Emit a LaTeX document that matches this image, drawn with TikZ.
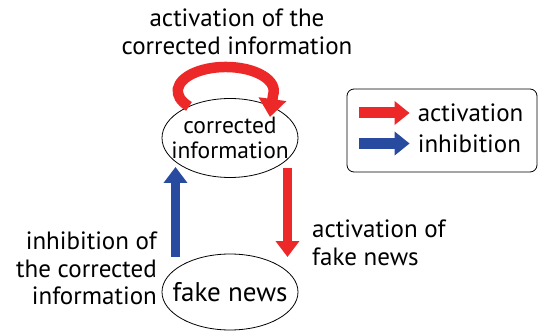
\documentclass[tikz,border=0pt]{standalone}
\usepackage{fontspec}
\setmainfont{PT Sans}
\usetikzlibrary{arrows.meta,shapes.geometric,calc}
\definecolor{actred}{RGB}{237,40,40}
\definecolor{inhblue}{RGB}{40,75,160}
\begin{document}
\begin{tikzpicture}[x=1pt,y=1pt,
  every node/.style={font=\fontsize{25}{27.5}\selectfont, inner sep=0pt},
  state/.style={ellipse, draw, line width=0.8pt, minimum width=136pt, minimum height=79pt, align=center,
    inner xsep=-15pt, font=\fontsize{23.5}{25}\selectfont},
  fatarrow/.style={line width=9pt, -{Triangle[length=16pt,width=23pt]}},
  act/.style={fatarrow, draw=actred},
  inh/.style={fatarrow, draw=inhblue},
  looparrow/.style={draw=actred, line width=10.5pt, -{Triangle[length=18pt,width=27pt]}},
  keyarrow/.style={line width=11pt, -{Triangle[length=15pt,width=23pt]}}]
\useasboundingbox (0,0) rectangle (538,-331);

% the two states
\node[state] (corr) at (230,-138) {corrected\\information};
\node[state, minimum height=76pt, font=\fontsize{27}{29}\selectfont] (fake) at (230,-292) {fake news};

% self-activation loop
\draw[looparrow] ($(corr.center)+(-41,31.6)$)
  arc[start angle=220, end angle=-10, x radius=48, y radius=24]
  -- ($(corr.center)+(40,21)$);

% activation of fake news and inhibition of the corrected information
\draw[act] ($(corr.center)+(57.5,-30)$) -- ($(fake.center)+(57.5,35)$);
\draw[inh] ($(fake.center)+(-54.5,35)$) -- ($(corr.center)+(-54.5,-29)$);

% labels
\node[align=center, anchor=north] (tlab) at (237,-9) {activation of the\\corrected information};
\node[align=left, anchor=north west] (rlab) at (312,-220) {activation of\\fake news};
\node[align=right, anchor=north east] (llab) at (157,-232) {inhibition of\\the corrected\\information};

% legend
\node[draw, rounded corners=7pt, line width=0.8pt, minimum width=190pt, minimum height=83pt] (legend) at (442,-130.5) {};
\coordinate (la1) at ($(legend.west)+(12,17.5)$);
\coordinate (la2) at ($(legend.west)+(12,-13)$);
\draw[keyarrow, draw=actred] (la1) -- ++(51,0);
\draw[keyarrow, draw=inhblue] (la2) -- ++(51,0);
\node[anchor=base west] (lt1) at ($(legend.west)+(71,8.5)$) {activation};
\node[anchor=base west] (lt2) at ($(legend.west)+(71,-22.5)$) {inhibition};
\end{tikzpicture}
\end{document}
